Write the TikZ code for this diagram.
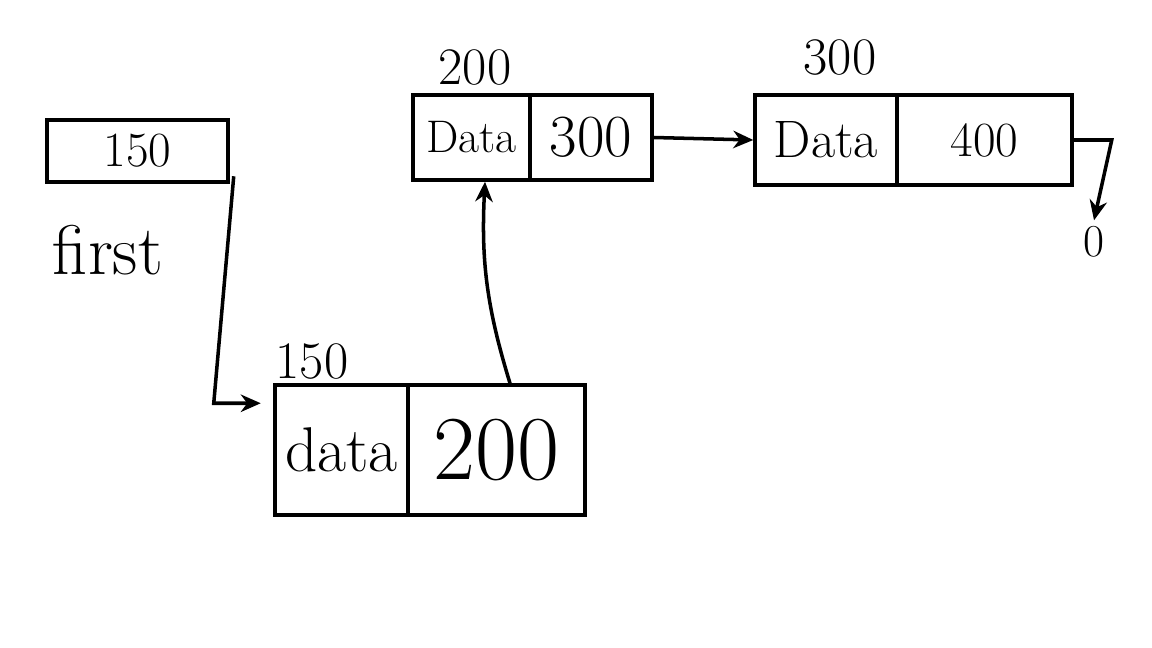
\documentclass[tikz,border=0pt]{standalone}
\usepackage{tikz}
\usetikzlibrary{arrows.meta,positioning,calc}
\tikzset{
  cell/.style={draw,line width=2pt,inner sep=0pt,align=center},
  addr/.style={font=\fontsize{30}{32}\selectfont},
  arr/.style={-{Stealth[length=4mm,width=3.5mm]},line width=2pt},
}
\begin{document}
\begin{tikzpicture}[x=0.02cm,y=-0.02cm]
\useasboundingbox (0,0) rectangle (1152,648);
% head pointer
\node[cell,minimum width=3.62cm,minimum height=1.24cm,font=\fontsize{28}{30}\selectfont] (first) at (137.5,151) {150};
\node[font=\fontsize{40}{42}\selectfont] (firstlbl) at (108,250) {first};
% node at 150
\node[cell,minimum width=2.66cm,minimum height=2.6cm,font=\fontsize{36}{38}\selectfont] (n150d) at (341.5,450) {data};
\node[cell,minimum width=3.54cm,minimum height=2.6cm,font=\fontsize{52}{54}\selectfont] (n150p) at (496.5,450) {200};
\node[addr] (a150) at (312,362) {150};
% node at 200
\node[cell,minimum width=2.34cm,minimum height=1.7cm,font=\fontsize{26}{28}\selectfont] (n200d) at (471.5,137.5) {Data};
\node[cell,minimum width=2.44cm,minimum height=1.7cm,font=\fontsize{34}{36}\selectfont] (n200p) at (591,137.5) {300};
\node[addr] (a200) at (475,68) {200};
% node at 300
\node[cell,minimum width=2.84cm,minimum height=1.8cm,font=\fontsize{30}{32}\selectfont] (n300d) at (826,140) {Data};
\node[cell,minimum width=3.5cm,minimum height=1.8cm,font=\fontsize{28}{30}\selectfont] (n300p) at (984.5,140) {400};
\node[addr] (a300) at (840,58) {300};
\node[font=\fontsize{26}{28}\selectfont] (nul) at (1094,242) {0};
% links
\coordinate (fdrop) at ([xshift=0.08cm,yshift=0.15cm]first.south east);
\coordinate (fin) at ([xshift=-0.25cm,yshift=-0.4cm]n150d.north west);
\draw[arr] (fdrop) -- ([xshift=-0.4cm]fdrop |- fin) -- (fin);
\draw[arr] ([xshift=0.27cm]n150p.north) to[bend left=10] ([xshift=0.27cm]n200d.south);
\draw[arr] (n200p.east) -- (n300d.west);
\draw[arr] (n300p.east) -- ++(38,0) -- (nul.north);
\end{tikzpicture}
\end{document}
